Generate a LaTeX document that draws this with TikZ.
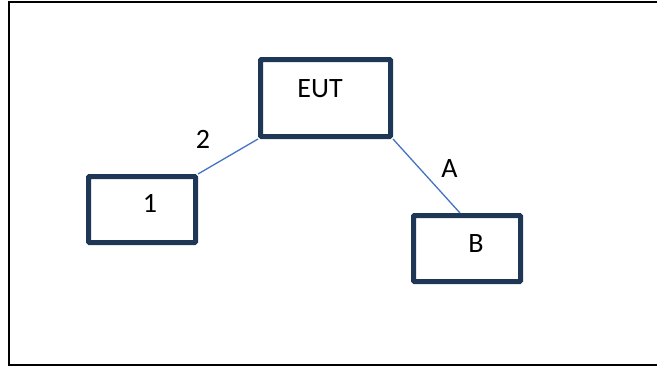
\documentclass[tikz,border=0pt]{standalone}
\usepackage{fontspec}
\setmainfont{Carlito}
\usepackage{xcolor}
\definecolor{color1}{RGB}{31,55,86}
\definecolor{color2}{RGB}{68,114,196}

\tikzset{
  unit/.style     = {draw=color1, line width=5pt, rounded corners=1pt,
                     fill=white, minimum width=107pt, minimum height=66pt,
                     inner sep=0pt},
  txt/.style      = {font=\fontsize{28}{30}\selectfont, inner sep=0pt,
                     anchor=base},
  link/.style     = {draw=color2, line width=1.3pt},
  frame/.style    = {draw=black, line width=2pt}
}

\begin{document}
\begin{tikzpicture}[x=1pt, y=-1pt]
% page and outer frame
\useasboundingbox (0,0) rectangle (657,367);
\draw[frame] (8.5,2) rectangle (662,365);

% units
\node[unit, minimum width=130pt, minimum height=77pt] (eut) at (325.5,98) {};
\node[unit] (one) at (142,209.5) {};
\node[unit] (b)   at (467,248.5) {};

% texts
\node[txt] (eutT) at (320,97)  {EUT};
\node[txt] (oneT) at (150,212) {1};
\node[txt] (bT)   at (476,252) {B};

% links
\draw[link] (eut.south west) -- (one.north east);
\draw[link] (eut.south east) -- ([xshift=-7pt]b.north);

% link labels
\node[txt] (lab2) at (203,148) {2};
\node[txt] (labA) at (449.5,177) {A};

\end{tikzpicture}
\end{document}
